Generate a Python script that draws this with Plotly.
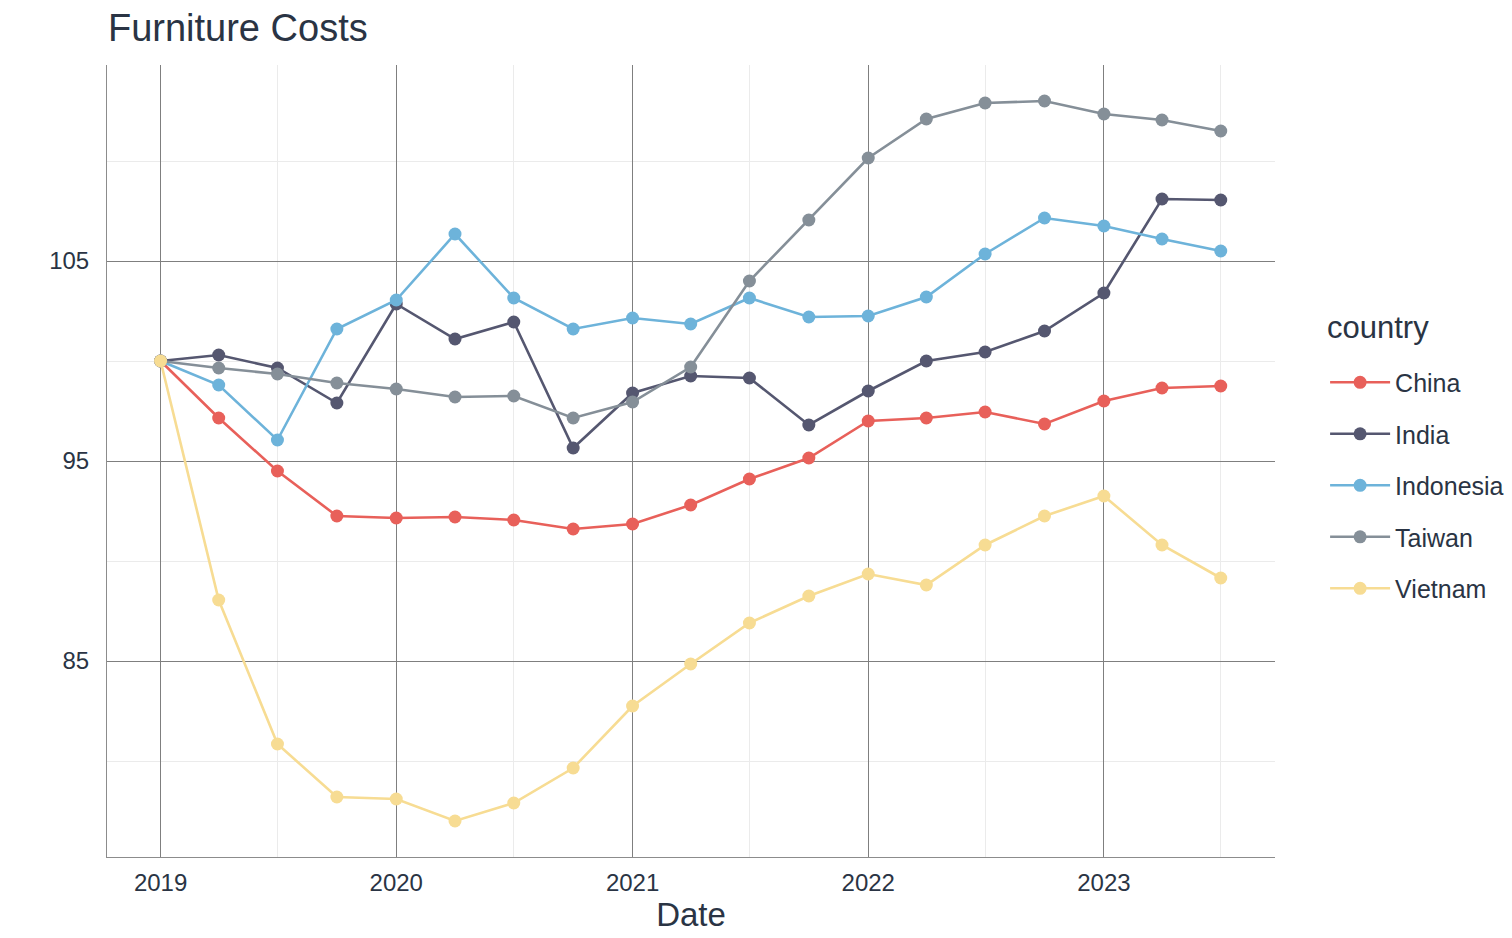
import plotly.graph_objects as go

dates = ["2019-01-01", "2019-04-01", "2019-07-01", "2019-10-01",
         "2020-01-01", "2020-04-01", "2020-07-01", "2020-10-01",
         "2021-01-01", "2021-04-01", "2021-07-01", "2021-10-01",
         "2022-01-01", "2022-04-01", "2022-07-01", "2022-10-01",
         "2023-01-01", "2023-04-01", "2023-07-01"]

china = [100, 97.15, 94.5, 92.25, 92.15, 92.2, 92.05, 91.6, 91.85, 92.8,
         94.1, 95.15, 97.0, 97.15, 97.45, 96.85, 98.0, 98.65, 98.75]
india = [100, 100.3, 99.65, 97.9, 102.85, 101.1, 101.95, 95.65, 98.4, 99.25,
         99.15, 96.8, 98.5, 100.0, 100.45, 101.5, 103.4, 108.1, 108.05]
indonesia = [100, 98.8, 96.05, 101.6, 103.05, 106.35, 103.15, 101.6, 102.15, 101.85,
             103.15, 102.2, 102.25, 103.2, 105.35, 107.15, 106.75, 106.1, 105.5]
taiwan = [100, 99.65, 99.35, 98.9, 98.6, 98.2, 98.25, 97.15, 97.95, 99.7,
          104.0, 107.05, 110.15, 112.1, 112.9, 113.0, 112.35, 112.05, 111.5]
vietnam = [100, 88.05, 80.85, 78.2, 78.1, 77.0, 77.9, 79.65, 82.75, 84.85,
           86.9, 88.25, 89.35, 88.8, 90.8, 92.25, 93.25, 90.8, 89.15]

series = [("China", china, "#E8605A"),
          ("India", india, "#555770"),
          ("Indonesia", indonesia, "#6DB3DA"),
          ("Taiwan", taiwan, "#858F98"),
          ("Vietnam", vietnam, "#F7DC93")]

tick_vals = ["2019-01-01", "2020-01-01", "2021-01-01", "2022-01-01", "2023-01-01"]
tick_text = ["2019", "2020", "2021", "2022", "2023"]

fig = go.Figure()
for name, vals, col in series:
    fig.add_trace(go.Scatter(
        x=dates, y=vals, name=name, mode="lines+markers",
        line=dict(color=col, width=2.6),
        marker=dict(color=col, size=13),
        legendgroup=name,
    ))

txt = "#2A3444"
fig.add_annotation(text="country", xref="paper", yref="paper", x=1.0428, y=0.668,
                   xanchor="left", yanchor="middle", showarrow=False,
                   font=dict(size=31, color=txt))
fig.update_layout(
    width=1512, height=938,
    paper_bgcolor="white", plot_bgcolor="white",
    font=dict(family="Liberation Sans, Arial, sans-serif", color=txt, size=20),
    title=dict(text="Furniture Costs", x=0.0661, xanchor="left", y=0.979, yanchor="middle",
               font=dict(size=38, color=txt)),
    margin=dict(l=99, r=244, t=57, b=89),
    showlegend=True,
    legend=dict(font=dict(size=25), x=1.042, xanchor="left", y=0.469, yanchor="middle",
                traceorder="grouped", tracegroupgap=16, itemwidth=60),
    xaxis=dict(type="date", range=["2018-10-10", "2023-09-23"],
               tickvals=tick_vals, ticktext=tick_text,
               showgrid=True, gridcolor="#7F7F7F", gridwidth=0.8,
               minor=dict(dtick="M6", tick0="2019-01-01", showgrid=True,
                          gridcolor="#EBEBEB", gridwidth=0.8),
               showline=True, linecolor="#8C8C8C", linewidth=1,
               ticks="", tickfont=dict(size=24, color=txt), ticklabelstandoff=4,
               title=dict(text="Date", font=dict(size=33, color=txt), standoff=8),
               zeroline=False),
    yaxis=dict(range=[75.2, 114.8], tickvals=[85, 95, 105],
               showgrid=True, gridcolor="#7F7F7F", gridwidth=0.8,
               minor=dict(tickvals=[80, 90, 100, 110], showgrid=True,
                          gridcolor="#EBEBEB", gridwidth=0.8),
               showline=True, linecolor="#8C8C8C", linewidth=1,
               ticks="", tickfont=dict(size=24, color=txt), ticklabelstandoff=12,
               zeroline=False),
)

fig.write_html("out.html")
